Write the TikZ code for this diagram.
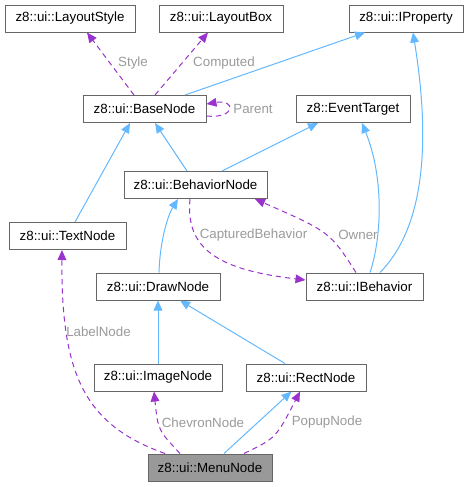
\documentclass[tikz,border=0pt]{standalone}
\usepackage{fontspec}
\setmainfont{Liberation Sans}
\usetikzlibrary{arrows.meta,calc}
\definecolor{edgeblue}{HTML}{63B8FF}
\definecolor{edgepurple}{HTML}{9A32CD}
\definecolor{boxborder}{HTML}{666666}
\definecolor{labelgray}{HTML}{9A9A9A}
\definecolor{menufill}{HTML}{999999}
\begin{document}
\begin{tikzpicture}[x=0.75pt,y=-0.75pt,
  cls/.style={draw=boxborder, fill=white, line width=0.75pt, minimum height=20.25pt, inner sep=0pt, font=\fontsize{10}{12}\selectfont},
  inh/.style={draw=edgeblue, line width=0.75pt, -{Triangle[length=7.5pt,width=6.5pt]}},
  use/.style={draw=edgepurple, line width=0.75pt, dash pattern=on 4pt off 3pt, -{Triangle[length=7.5pt,width=6.5pt]}},
  elab/.style={text=labelgray, font=\fontsize{10}{12}\selectfont, inner sep=1pt}]
\useasboundingbox (0,0) rectangle (469,487);
% nodes
\node[cls, minimum width=97.5pt] (ls) at (70,18.5) {z8::ui::LayoutStyle};
\node[cls, minimum width=93pt] (lb) at (221,18.5) {z8::ui::LayoutBox};
\node[cls, minimum width=85.5pt] (ip) at (406,18.5) {z8::ui::IProperty};
\node[cls, minimum width=92.25pt] (base) at (144.5,109) {z8::ui::BaseNode};
\node[cls, minimum width=85.5pt] (et) at (353,109) {z8::EventTarget};
\node[cls, minimum width=107.25pt] (bn) at (195.5,185) {z8::ui::BehaviorNode};
\node[cls, minimum width=87.75pt] (tn) at (67.5,236) {z8::ui::TextNode};
\node[cls, minimum width=93pt] (dn) at (158,286.5) {z8::ui::DrawNode};
\node[cls, minimum width=87.75pt] (ib) at (364.5,286.5) {z8::ui::IBehavior};
\node[cls, minimum width=96pt] (im) at (158,377.5) {z8::ui::ImageNode};
\node[cls, minimum width=90pt] (rn) at (306,377.5) {z8::ui::RectNode};
\node[cls, minimum width=93pt, fill=menufill] (mn) at (210,467.5) {z8::ui::MenuNode};
% edges
\draw[use] ($(base.north)+(-10.5,0)$) -- ($(ls.south)+(17,0)$);
\node[elab] (lstyle) at (133,63) {Style};
\draw[use] ($(base.north)+(10.5,0)$) -- ($(lb.south)+(-13,0)$);
\node[elab] (lcomp) at (224,63) {Computed};
\draw[inh] ($(base.north)+(40.5,0)$) -- ($(ip.south)+(-41,0)$);
\draw[use] ($(base.east)+(0,7)$) .. controls (236,119) and (236,99) .. ($(base.east)+(0,-5)$);
\node[elab] (lpar) at (253,109) {Parent};
\draw[inh] ($(tn.north)+(7.5,0)$) -- ($(base.south)+(-14.5,0)$);
\draw[inh] ($(bn.north)+(-8.5,0)$) -- ($(base.south)+(10.5,0)$);
\draw[inh] ($(bn.north)+(26.5,0)$) -- ($(et.south)+(-35,0)$);
\draw[inh] ($(ib.north)+(5.5,0)$) .. controls (381,240) and (385,180) .. ($(et.south)+(9,0)$);
\draw[inh] ($(ib.north)+(15.5,0)$) .. controls (422,230) and (432,150) .. ($(ip.south)+(7,0)$);
\draw[inh] ($(dn.north)+(1,0)$) .. controls (160,240) and (168,215) .. ($(bn.south)+(-17.5,0)$);
\draw[use] ($(bn.south)+(-5.5,0)$) .. controls (185,250) and (220,270) .. ($(ib.west)+(0,-6.5)$);
\node[elab] (lcap) at (253.5,235) {CapturedBehavior};
\draw[use] ($(ib.north)+(-8.5,0)$) .. controls (330,232) .. ($(bn.south)+(59.5,0)$);
\node[elab] (lown) at (358,235) {Owner};
\draw[inh] (im.north) -- (dn.south);
\draw[inh] ($(rn.north)+(-21,0)$) -- ($(dn.south)+(22,0)$);
\draw[use] ($(mn.north)+(-45,0)$) .. controls (85,425) and (61,375) .. ($(tn.south)+(-5.5,0)$);
\node[elab] (llab) at (98.5,331.5) {LabelNode};
\draw[use] ($(mn.north)+(-30,0)$) .. controls (158,430) .. ($(im.south)+(-4,0)$);
\node[elab] (lchev) at (203,422.5) {ChevronNode};
\draw[inh] ($(mn.north)+(14,0)$) -- ($(rn.south)+(-14.5,0)$);
\draw[use] ($(mn.north)+(34,0)$) .. controls (276,438) .. ($(rn.south)+(-6,0)$);
\node[elab] (lpop) at (327,422.5) {PopupNode};
\end{tikzpicture}
\end{document}
